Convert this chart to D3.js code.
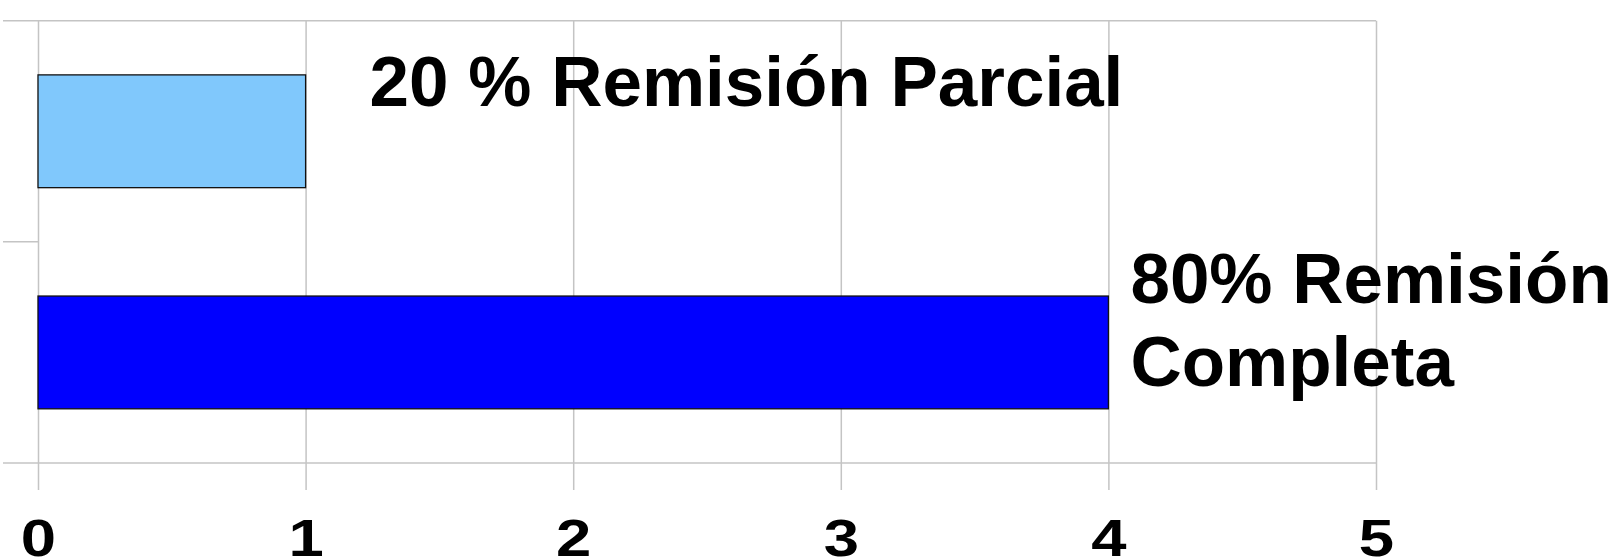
<!DOCTYPE html>
<html>
<head>
<meta charset="utf-8">
<script src="https://cdn.jsdelivr.net/npm/d3@7"></script>
<style>
  body { margin: 0; background: #fff; }
  svg { display: block; }
  .grid line { stroke: #c4c4c4; stroke-width: 1.5; }
  .label { font-family: Arial, "Liberation Sans", sans-serif; font-weight: bold; font-size: 71px; fill: #000; }
  .tick text { font-family: Arial, "Liberation Sans", sans-serif; font-weight: bold; font-size: 52px; fill: #000; }
</style>
</head>
<body>
<div class="chart"></div>
<script>
// data
var categories = ["Remisión Parcial", "Remisión Completa"];
var values = [1, 4];
var barLabels = [["20 % Remisión Parcial"], ["80% Remisión", "Completa"]];
var xTicks = [0, 1, 2, 3, 4, 5];

var w = 1619, h = 560;
var margin = {top: 20.7, left: 38, right: 243, bottom: 97};
var plotBottom = h - margin.bottom; // 463

var svg = d3.select("div.chart")
            .append("svg")
            .attr("width", w)
            .attr("height", h);

var x = d3.scaleLinear()
          .domain([0, 5])
          .range([margin.left, w - margin.right]);

var y = d3.scaleBand()
          .domain(categories)
          .range([margin.top, plotBottom])
          .padding(0);

var barH = y.bandwidth() * 0.51;

//vertical gridlines + tick labels
var xAxis = d3.axisBottom(x)
              .tickValues(xTicks)
              .tickSizeInner(-(490 - margin.top))
              .tickSizeOuter(0)
              .tickPadding(29)
              .tickFormat(d3.format("d"));

var gx = svg.append("g")
            .attr("class", "grid")
            .attr("transform", "translate(0,490)")
            .call(xAxis);
gx.select(".domain").remove();
//digits in the original are drawn wide
gx.selectAll(".tick text")
    .attr("transform", "scale(1.22,1)");

//horizontal lines: top & bottom frame, category separators as ticks
var frame = svg.append("g").attr("class", "grid");
frame.selectAll("line.full")
     .data([y.range()[0], y.range()[1]])
     .enter()
     .append("line")
        .attr("class", "full")
        .attr("x1", 3)
        .attr("x2", x(5))
        .attr("y1", d => d)
        .attr("y2", d => d);
frame.selectAll("line.sep")
     .data(categories.slice(1))
     .enter()
     .append("line")
        .attr("class", "sep")
        .attr("x1", 3)
        .attr("x2", x(0))
        .attr("y1", d => y(d))
        .attr("y2", d => y(d));

//bars
var colors = ["#80c8fc", "#0000ff"];
svg.append("g")
   .selectAll("rect")
   .data(values)
   .enter()
   .append("rect")
      .attr("x", x(0))
      .attr("y", (d, i) => y(categories[i]) + (y.bandwidth() - barH) / 2)
      .attr("width", d => x(d) - x(0))
      .attr("height", barH)
      .attr("fill", (d, i) => colors[i])
      .attr("stroke", "#111")
      .attr("stroke-width", 1.3);

//labels next to bars (offset from bar end, baselines relative to band centre)
var labelLayout = [{dx: 64, lines: [-25]}, {dx: 22, lines: [-49.5, 33.5]}];
barLabels.forEach(function(lines, i){
    var cy = y(categories[i]) + y.bandwidth() / 2;
    var t = svg.append("text")
               .attr("class", "label")
               .attr("x", x(values[i]) + labelLayout[i].dx);
    lines.forEach(function(line, j){
        t.append("tspan")
         .attr("x", x(values[i]) + labelLayout[i].dx)
         .attr("y", cy + labelLayout[i].lines[j])
         .text(line);
    });
});
</script>
</body>
</html>
